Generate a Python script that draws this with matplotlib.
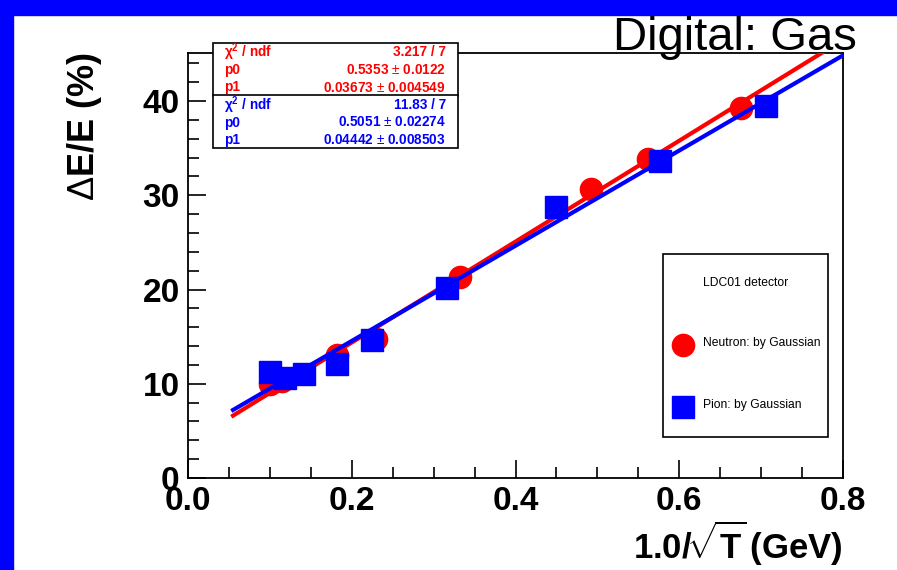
import numpy as np
import matplotlib
matplotlib.use("Agg")
import matplotlib.pyplot as plt
from matplotlib.patches import Rectangle
from matplotlib.ticker import MultipleLocator

plt.rcParams["font.family"] = ["Liberation Sans", "DejaVu Sans"]
plt.rcParams["mathtext.fontset"] = "custom"
plt.rcParams["mathtext.rm"] = "Liberation Sans"
plt.rcParams["mathtext.bf"] = "Liberation Sans:bold"
plt.rcParams["mathtext.it"] = "Liberation Sans:italic"

# =========================
# DATA
# =========================
neutron_x = [0.100, 0.115, 0.182, 0.230, 0.332, 0.492, 0.562, 0.675]
neutron_y = [10.0, 10.3, 13.1, 14.8, 21.3, 30.7, 33.8, 39.3]

pion_x = [0.100, 0.118, 0.142, 0.182, 0.225, 0.316, 0.450, 0.577, 0.706]
pion_y = [11.3, 10.6, 11.0, 12.1, 14.6, 20.2, 28.8, 33.6, 39.5]

# fit results (fraction units): dE/E = p0 * x + p1
neutron_fit = {"chi2": "3.217 / 7", "p0": 0.5353, "p0_err": "0.0122",
               "p1": 0.03673, "p1_err": "0.004549"}
pion_fit = {"chi2": "11.83 / 7", "p0": 0.5051, "p0_err": "0.02274",
            "p1": 0.04442, "p1_err": "0.008503"}
fit_range = (0.055, 0.80)

RED = "#ff0000"
BLUE = "#0000ff"

W, H = 897, 570


def fx(px):
    return px / W


def fy(py):
    return 1 - py / H


fig = plt.figure(figsize=(W / 100, H / 100), dpi=100)
fig.patch.set_facecolor("white")

# blue slide frame on top and left
fig.patches.append(Rectangle((0, fy(15)), 1, 15 / H, transform=fig.transFigure,
                             color=BLUE, zorder=0))
fig.patches.append(Rectangle((0, 0), 13 / W, 1, transform=fig.transFigure,
                             color=BLUE, zorder=0))

ax = fig.add_axes([fx(188), fy(478), fx(843) - fx(188), fy(53) - fy(478)])
ax.set_xlim(0, 0.8)
ax.set_ylim(0, 45.1)

for side in ["left", "bottom", "right", "top"]:
    ax.spines[side].set_linewidth(1.3)

ax.xaxis.set_major_locator(MultipleLocator(0.2))
ax.xaxis.set_minor_locator(MultipleLocator(0.05))
ax.yaxis.set_major_locator(MultipleLocator(10))
ax.yaxis.set_minor_locator(MultipleLocator(2))
ax.tick_params(which="both", direction="in", top=False, right=False, width=1.2)
ax.tick_params(which="major", length=13, labelsize=24, pad=6)
ax.tick_params(which="minor", length=8)
ax.set_xticks(np.arange(0, 0.81, 0.2))
ax.set_xticklabels([f"{v:.1f}" for v in np.arange(0, 0.81, 0.2)])
for lab in ax.get_xticklabels() + ax.get_yticklabels():
    lab.set_fontweight("bold")

# points and fitted lines
xf = np.linspace(fit_range[0], fit_range[1], 50)
ax.plot(neutron_x, neutron_y, "o", color=RED, ms=16, mec=RED, zorder=3)
ax.plot(xf, 100 * (neutron_fit["p0"] * xf + neutron_fit["p1"]), color=RED,
        lw=3, zorder=4)
ax.plot(pion_x, pion_y, "s", color=BLUE, ms=16, mec=BLUE, zorder=5)
ax.plot(xf, 100 * (pion_fit["p0"] * xf + pion_fit["p1"]), color=BLUE,
        lw=3, zorder=6)

# axis titles
fig.text(fx(843), fy(543), r"$\mathbf{1.0/\!\sqrt{T}\,(GeV)}$", ha="right",
         va="center", fontsize=25)
fig.text(fx(84), fy(52), r"$\Delta$$\mathbf{E/E\ (\%)}$", ha="center",
         va="top", rotation=90, fontsize=26)

# title
fig.text(fx(857), fy(50), "Digital: Gas", ha="right", va="baseline",
         fontsize=34)

# stats boxes
for i, (fit, col) in enumerate([(neutron_fit, RED), (pion_fit, BLUE)]):
    top = 43 + i * 52.5
    fig.patches.append(Rectangle((fx(213), fy(top + 52.5)), fx(458) - fx(213),
                                 52.5 / H, transform=fig.transFigure,
                                 facecolor="white", edgecolor="black",
                                 lw=1.2, zorder=10))
    rows = [("χ$^\\mathbf{2}$ / ndf", fit["chi2"]),
            ("p0", f"{fit['p0']} $\\pm$ {fit['p0_err']}"),
            ("p1", f"{fit['p1']} $\\pm$ {fit['p1_err']}")]
    for j, (name, val) in enumerate(rows):
        yy = top + 9.5 + j * 17.5
        fig.text(fx(224), fy(yy), name, color=col, fontsize=9.8,
                 fontweight="bold", va="center", zorder=11)
        fig.text(fx(446), fy(yy), val, color=col, fontsize=9.8,
                 fontweight="bold", va="center", ha="right", zorder=11)

# legend box
fig.patches.append(Rectangle((fx(663), fy(437)), fx(828) - fx(663),
                             (437 - 254) / H, transform=fig.transFigure,
                             facecolor="white", edgecolor="black", lw=1.2,
                             zorder=10))
fig.text(fx(703), fy(283), "LDC01 detector", fontsize=8.7, va="center",
         zorder=11)
fig.text(fx(703), fy(343), "Neutron: by Gaussian", fontsize=8.7, va="center",
         zorder=11)
fig.text(fx(703), fy(405), "Pion: by Gaussian", fontsize=8.7, va="center",
         zorder=11)
fig.lines.append(plt.Line2D([fx(683)], [fy(345)], marker="o", ms=16,
                            color=RED, transform=fig.transFigure, zorder=11))
fig.lines.append(plt.Line2D([fx(683)], [fy(407)], marker="s", ms=16,
                            color=BLUE, transform=fig.transFigure, zorder=11))

fig.savefig("out.png", dpi=100)
